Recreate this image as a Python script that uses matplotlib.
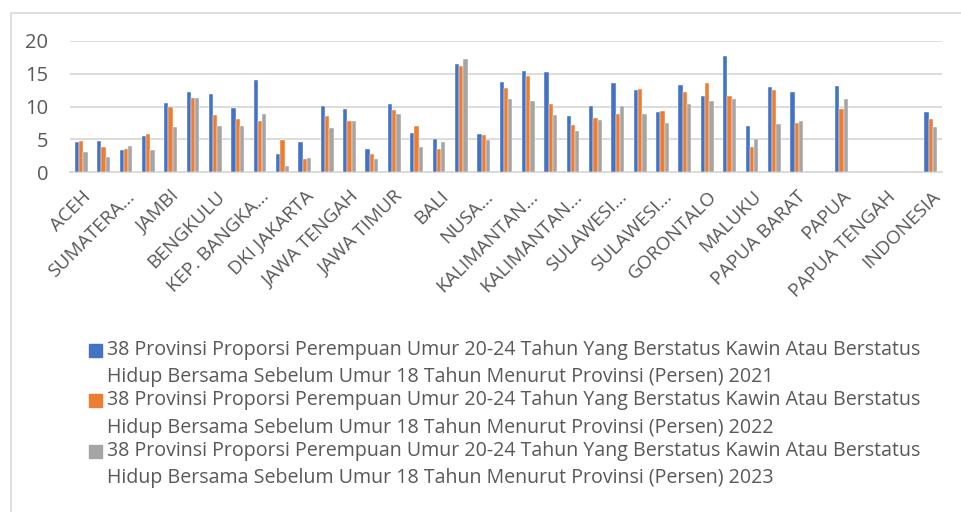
"""Proporsi perempuan 20-24 tahun kawin sebelum umur 18 tahun, per provinsi (2021-2023)."""
import matplotlib
matplotlib.use('Agg')
import matplotlib.pyplot as plt
import numpy as np
from matplotlib.patches import Rectangle

PROVINCES = ['ACEH', 'SUMATERA UTARA', 'SUMATERA BARAT', 'RIAU', 'JAMBI',
             'SUMATERA SELATAN', 'BENGKULU', 'LAMPUNG', 'KEP. BANGKA BELITUNG',
             'KEP. RIAU', 'DKI JAKARTA', 'JAWA BARAT', 'JAWA TENGAH',
             'DI YOGYAKARTA', 'JAWA TIMUR', 'BANTEN', 'BALI',
             'NUSA TENGGARA BARAT', 'NUSA TENGGARA TIMUR', 'KALIMANTAN BARAT',
             'KALIMANTAN TENGAH', 'KALIMANTAN SELATAN', 'KALIMANTAN TIMUR',
             'KALIMANTAN UTARA', 'SULAWESI UTARA', 'SULAWESI TENGAH',
             'SULAWESI SELATAN', 'SULAWESI TENGGARA', 'GORONTALO',
             'SULAWESI BARAT', 'MALUKU', 'MALUKU UTARA', 'PAPUA BARAT',
             'PAPUA BARAT DAYA', 'PAPUA', 'PAPUA SELATAN', 'PAPUA TENGAH',
             'PAPUA PEGUNUNGAN', 'INDONESIA']

# labels as Excel shows them (every other category, long names cut)
TICK_LABELS = ['ACEH', '', 'SUMATERA…', '', 'JAMBI', '', 'BENGKULU', '',
               'KEP. BANGKA…', '', 'DKI JAKARTA', '', 'JAWA TENGAH', '',
               'JAWA TIMUR', '', 'BALI', '', 'NUSA…', '', 'KALIMANTAN…', '',
               'KALIMANTAN…', '', 'SULAWESI…', '', 'SULAWESI…', '', 'GORONTALO',
               '', 'MALUKU', '', 'PAPUA BARAT', '', 'PAPUA', '', 'PAPUA TENGAH',
               '', 'INDONESIA']

nan = np.nan
Y2021 = [4.53, 4.78, 3.41, 5.55, 10.59, 12.21, 11.90, 9.72, 14.00, 2.80,
         4.63, 10.03, 9.67, 3.46, 10.33, 5.95, 5.04, 16.54, 5.85, 13.79,
         15.42, 15.27, 8.60, 10.08, 13.54, 12.47, 9.16, 13.23, 11.60, 17.66,
         7.02, 13.03, 12.21, nan, 13.18, nan, nan, nan, 9.23]
Y2022 = [4.78, 3.77, 3.56, 5.75, 9.87, 11.35, 8.75, 8.04, 7.84, 4.83,
         1.93, 8.60, 7.74, 2.70, 9.41, 7.02, 3.56, 16.18, 5.65, 12.77,
         14.71, 10.43, 7.18, 8.30, 8.80, 12.62, 9.26, 12.21, 13.64, 11.65,
         3.77, 12.47, 7.43, nan, 9.57, nan, nan, nan, 8.06]
Y2023 = [3.10, 2.29, 3.92, 3.41, 6.82, 11.35, 6.97, 7.07, 8.80, 0.87,
         2.09, 6.77, 7.74, 1.93, 8.80, 3.82, 4.63, 17.30, 4.94, 11.20,
         10.89, 8.65, 6.26, 7.99, 10.13, 8.80, 7.43, 10.33, 10.89, 11.15,
         5.04, 7.28, 7.84, nan, 11.09, nan, nan, nan, 6.92]

BASE = ('38 Provinsi Proporsi Perempuan Umur 20-24 Tahun Yang Berstatus Kawin Atau Berstatus',
        'Hidup Bersama Sebelum Umur 18 Tahun Menurut Provinsi (Persen) {}')
YEARS = ['2021', '2022', '2023']
COLORS = ['#4472C4', '#ED7D31', '#A5A5A5']
TXT = '#595959'
GRID = '#D9D9D9'

plt.rcParams['font.family'] = ['Open Sans', 'DejaVu Sans']

W, H = 961, 512
fig = plt.figure(figsize=(W / 100, H / 100), dpi=100)
fig.patch.set_facecolor('white')

# chart frame (runs off the right and bottom of the picture)
fig.patches.append(Rectangle((11 / W, -0.1), 1.2, (H - 13) / H + 0.1,
                             transform=fig.transFigure, fill=False,
                             edgecolor=GRID, linewidth=1.2))

ax = fig.add_axes([70 / W, (H - 172) / H, 872 / W, 131 / H])
x = np.arange(len(PROVINCES))
w = 0.19
for k, (vals, c) in enumerate(zip([Y2021, Y2022, Y2023], COLORS)):
    ax.bar(x + (k - 1) * w, vals, width=w, color=c, edgecolor='white',
           linewidth=0.3, zorder=3)

ax.set_xlim(-0.5, len(PROVINCES) - 0.5)
ax.set_ylim(0, 20)
ax.set_yticks([0, 5, 10, 15, 20])
ax.yaxis.grid(True, color=GRID, linewidth=1.3, zorder=0)
ax.tick_params(axis='y', length=0, pad=15.5, labelsize=14.5, labelcolor=TXT)
ax.set_xticks(x)
ax.set_xticklabels(TICK_LABELS, rotation=45, ha='right', va='top',
                   rotation_mode='anchor')
ax.tick_params(axis='x', length=0, pad=11, labelsize=13.8, labelcolor=TXT)
for s in ['left', 'right', 'top']:
    ax.spines[s].set_visible(False)
ax.spines['bottom'].set_color(GRID)
ax.spines['bottom'].set_linewidth(1.3)

# legend, drawn by hand so the swatch sits on the first line of each entry
for k, (yr, c) in enumerate(zip(YEARS, COLORS)):
    y1 = 350 + k * 50.5
    fig.patches.append(Rectangle((89 / W, (H - y1 - 6.5) / H), 13 / W, 13 / H,
                                 transform=fig.transFigure, color=c))
    fig.text(107 / W, (H - y1) / H, BASE[0], color=TXT, fontsize=14.1,
             va='center', ha='left')
    fig.text(107 / W, (H - y1 - 27) / H, BASE[1].format(yr), color=TXT,
             fontsize=14.1, va='center', ha='left')

fig.savefig('out.png', dpi=100)
